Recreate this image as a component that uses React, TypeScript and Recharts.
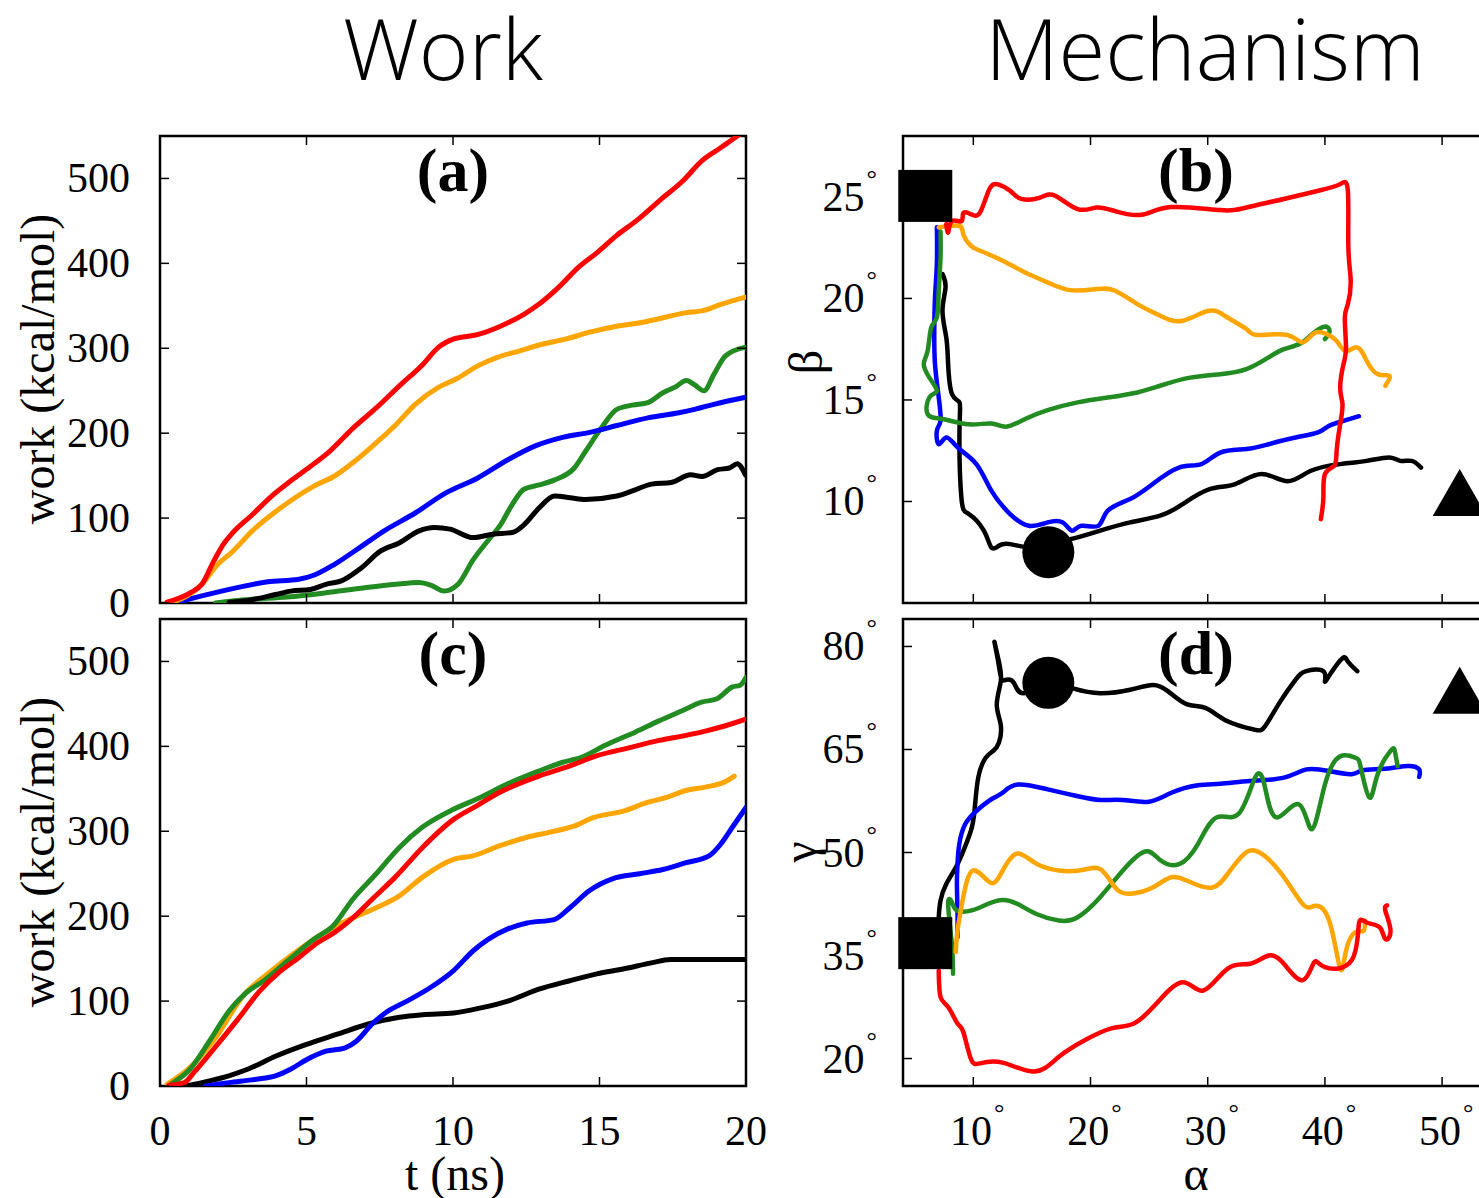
import { LineChart, ComposedChart, Line, Scatter, XAxis, YAxis, ReferenceArea } from "recharts";

const SERIF = '"Liberation Serif", "Times New Roman", serif';
const SANS = '"Open Sans", "Noto Sans", sans-serif';

const RED = "#ff0000";
const ORANGE = "#ffa500";
const BLUE = "#0000ff";
const BLACK = "#000000";
const GREEN = "#228b22";

// tick labels
const timeTicks = [0, 5, 10, 15, 20];
const workTicks = [0, 100, 200, 300, 400, 500];
const alphaTicks = [10, 20, 30, 40, 50];
const betaTicks = [10, 15, 20, 25];
const gammaTicks = [20, 35, 50, 65, 80];

// (a) work vs t (ns)
const redA = [[0.24, 1], [1.03, 12], [1.43, 22], [1.83, 49], [2.16, 69], [2.49, 83], [3.15, 104], [3.81, 126], [4.47, 144], [5.14, 161], [5.8, 179], [6.59, 206], [7.39, 230], [8.18, 256], [8.97, 281], [9.5, 301], [10.03, 311], [10.83, 316], [11.62, 326], [12.42, 340], [12.94, 352], [13.61, 372], [14.27, 395], [14.93, 413], [15.59, 433], [16.25, 450], [17.05, 474], [17.84, 497], [18.5, 521], [19.17, 537], [19.7, 550], [20, 558]];
const orangeA = [[0.37, 0], [1.43, 22], [1.96, 45], [2.49, 61], [3.15, 85], [3.81, 104], [4.61, 124], [5.27, 138], [5.93, 149], [6.72, 169], [7.39, 189], [8.05, 210], [8.71, 234], [9.5, 254], [10.17, 265], [10.83, 279], [11.49, 289], [12.28, 297], [13.08, 305], [13.87, 311], [14.67, 319], [15.59, 326], [16.39, 330], [17.18, 336], [17.97, 342], [18.5, 344], [19.17, 352], [19.95, 360]];
const blueA = [[0.5, 0], [1.16, 6], [2.36, 16], [3.68, 25], [4.74, 28], [5.27, 33], [5.93, 45], [6.72, 63], [7.65, 85], [8.71, 106], [9.77, 130], [10.83, 147], [11.89, 169], [12.81, 185], [13.74, 195], [14.67, 201], [15.59, 209], [16.65, 218], [17.71, 224], [18.24, 228], [18.9, 234], [19.95, 242]];
const blackA = [[2.36, 1], [3.15, 4], [3.94, 10], [4.47, 14], [5.14, 16], [5.66, 22], [6.19, 26], [6.86, 41], [7.52, 61], [8.18, 71], [8.84, 85], [9.37, 89], [9.9, 87], [10.69, 77], [11.36, 81], [12.02, 83], [12.42, 92], [12.94, 112], [13.47, 126], [14.0, 124], [14.53, 122], [15.59, 126], [16.12, 132], [16.78, 140], [17.45, 142], [18.11, 151], [18.5, 149], [19.03, 157], [19.43, 159], [19.7, 164], [19.98, 151]];
const greenA = [[1.89, 0], [3.02, 4], [4.34, 7], [5.66, 12], [6.99, 18], [8.05, 22], [8.84, 24], [9.24, 21], [9.7, 14], [10.17, 22], [10.69, 51], [11.23, 75], [11.62, 92], [12.02, 116], [12.42, 134], [12.94, 139], [13.47, 145], [14.14, 159], [14.53, 179], [15.06, 206], [15.59, 228], [16.12, 233], [16.65, 236], [17.18, 248], [17.57, 254], [17.97, 262], [18.24, 257], [18.57, 250], [18.9, 269], [19.3, 291], [19.95, 301]];

// (c) work vs t (ns)
const greenC = [[0.37, 2], [1.03, 20], [1.69, 53], [2.35, 88], [2.88, 108], [3.54, 124], [4.34, 147], [5.26, 173], [5.92, 189], [6.58, 220], [7.38, 250], [8.17, 281], [8.96, 305], [10.02, 326], [10.95, 340], [11.87, 356], [12.93, 371], [13.72, 381], [14.38, 387], [15.18, 401], [16.23, 417], [17.03, 430], [17.82, 442], [18.48, 452], [19.01, 456], [19.54, 470], [19.8, 472], [20, 481]];
const redC = [[0.3, 1], [0.83, 4], [1.16, 16], [1.82, 43], [2.62, 77], [3.41, 112], [4.07, 134], [4.73, 151], [5.39, 169], [5.92, 180], [6.58, 198], [7.24, 220], [8.03, 246], [8.96, 281], [10.02, 314], [10.81, 330], [11.6, 346], [12.93, 365], [13.99, 377], [14.92, 389], [15.97, 398], [17.03, 407], [17.95, 413], [18.61, 418], [19.27, 424], [20, 432]];
const orangeC = [[0.24, 2], [1.03, 22], [1.82, 53], [2.88, 108], [3.67, 132], [4.6, 157], [5.52, 179], [6.58, 198], [7.38, 210], [8.17, 224], [8.96, 246], [10.02, 267], [10.68, 271], [11.6, 283], [12.53, 293], [13.32, 299], [14.12, 306], [14.78, 316], [15.84, 324], [16.63, 334], [17.29, 340], [17.95, 348], [18.61, 352], [19.27, 358], [19.6, 365]];
const blueC = [[1.56, 0], [2.35, 4], [3.28, 8], [3.94, 12], [4.47, 20], [5.0, 31], [5.66, 41], [6.32, 45], [6.71, 53], [7.24, 73], [7.77, 88], [8.43, 100], [9.23, 116], [10.02, 136], [10.68, 159], [11.21, 173], [11.87, 185], [12.53, 192], [13.45, 196], [13.99, 210], [14.65, 230], [15.44, 244], [16.37, 250], [17.16, 255], [17.95, 263], [18.74, 271], [19.14, 285], [19.54, 305], [20, 328]];
const blackC = [[0.9, 0], [1.69, 6], [2.35, 12], [3.01, 20], [3.94, 35], [5.0, 49], [6.05, 61], [7.11, 73], [8.17, 81], [8.96, 84], [10.02, 86], [10.95, 92], [11.87, 100], [12.93, 114], [13.99, 124], [14.91, 132], [15.84, 138], [16.77, 145], [17.42, 149], [18.48, 149], [20, 149]];

// (b) beta vs alpha (deg)
const redB = [[7.69, 23.66], [7.85, 23.25], [8.17, 23.8], [8.98, 23.8], [9.14, 24.2], [9.78, 24.15], [10.58, 24.24], [11.38, 25.39], [12.18, 25.6], [13.14, 25.3], [14.1, 24.9], [15.7, 24.97], [16.98, 25.06], [18.9, 24.4], [20.5, 24.48], [22.1, 24.3], [24.35, 24.12], [26.9, 24.5], [31.07, 24.35], [33.3, 24.48], [36.5, 24.9], [39.7, 25.34], [41.3, 25.63], [41.96, 25.3], [42.0, 22.5], [42.2, 20.87], [41.96, 19.72], [41.7, 19.06], [41.8, 17.6], [41.6, 16.8], [41.3, 15.6], [41.5, 14.8], [41.3, 13.8], [41.0, 12.5], [40.8, 11.76], [40.0, 11.35], [39.87, 10.2], [39.65, 9.13]];
const orangeB = [[7.05, 23.5], [8.8, 23.58], [9.14, 23.17], [9.78, 22.6], [10.58, 22.35], [12.5, 21.86], [14.42, 21.28], [16.34, 20.79], [18.26, 20.41], [20.5, 20.46], [22.1, 20.38], [24.0, 19.72], [25.94, 19.15], [27.86, 18.9], [30.1, 19.39], [31.7, 19.06], [33.3, 18.49], [34.27, 18.2], [36.8, 18.2], [38.1, 17.83], [39.07, 18.28], [40.0, 18.28], [41.0, 17.9], [41.8, 17.4], [42.76, 17.59], [43.56, 16.93], [44.5, 16.27], [45.5, 16.19], [45.16, 15.7]];
const greenB = [[7.2, 23.3], [7.2, 22.0], [7.05, 20.38], [6.89, 19.06], [6.41, 18.57], [6.1, 17.42], [5.77, 16.77], [6.25, 16.1], [6.89, 15.45], [6.25, 15.12], [6.1, 14.3], [7.37, 14.06], [9.6, 13.8], [11.54, 13.84], [12.8, 13.68], [14.42, 14.06], [16.34, 14.5], [18.9, 14.88], [21.46, 15.12], [24.0, 15.37], [25.94, 15.7], [28.5, 16.1], [31.07, 16.27], [33.3, 16.52], [35.2, 17.1], [36.5, 17.5], [37.8, 17.75], [38.75, 18.16], [39.87, 18.6], [40.4, 18.4], [40.0, 18.0]];
const blueB = [[6.89, 23.5], [6.89, 21.7], [6.73, 20.05], [6.67, 18.4], [6.73, 16.77], [7.05, 15.12], [7.2, 13.97], [6.89, 13.48], [7.05, 12.82], [7.69, 13.15], [8.66, 12.66], [10.26, 11.84], [11.54, 10.53], [13.14, 9.38], [14.74, 8.8], [16.34, 8.97], [17.62, 8.97], [18.42, 8.56], [19.22, 8.8], [20.66, 8.8], [21.46, 9.54], [23.38, 10.12], [25.3, 10.86], [27.55, 11.67], [29.47, 11.84], [31.07, 12.41], [33.3, 12.58], [35.2, 12.82], [37.5, 13.15], [39.4, 13.4], [40.36, 13.73], [41.6, 13.97], [42.9, 14.2]];
const blackB = [[7.37, 21.2], [7.63, 20.54], [7.37, 19.4], [7.69, 18.08], [7.85, 16.77], [8.18, 15.29], [8.82, 14.88], [8.82, 13.48], [8.98, 10.2], [9.62, 9.38], [10.9, 8.56], [11.54, 7.73], [12.18, 7.82], [13.14, 7.9], [15.06, 7.73], [16.5, 7.98], [18.26, 8.14], [20.82, 8.56], [23.38, 8.97], [25.94, 9.3], [27.86, 9.87], [30.1, 10.6], [32.35, 10.86], [34.6, 11.35], [36.8, 11.0], [38.75, 11.5], [41.3, 11.84], [43.56, 12.0], [45.5, 12.17], [46.44, 12.0], [47.4, 12.0], [48.2, 11.67]];

// (d) gamma vs alpha (deg)
const blackD = [[7.05, 40.57], [7.2, 43.0], [7.69, 45.4], [8.5, 47.8], [9.14, 50.2], [9.78, 53.1], [10.1, 56.05], [10.42, 60.9], [11.06, 63.8], [11.7, 64.8], [12.18, 65.97], [12.34, 68.6], [12.0, 71.5], [12.34, 74.9], [12.18, 77.8], [11.8, 80.7], [12.1, 78.0], [12.4, 75.3], [12.82, 75.16], [13.46, 74.7], [14.26, 73.2], [16.44, 74.4], [18.58, 73.86], [20.82, 73.2], [23.38, 73.7], [25.3, 74.4], [26.6, 73.5], [28.2, 71.6], [29.8, 71.05], [31.7, 69.1], [33.95, 67.9], [34.9, 68.4], [36.2, 72.0], [37.5, 75.16], [38.4, 76.4], [39.87, 76.4], [40.0, 74.9], [40.5, 76.1], [41.5, 78.3], [41.96, 77.8], [42.76, 76.4]];
const blueD = [[8.65, 37.67], [8.65, 41.5], [8.6, 45.4], [8.65, 48.3], [8.8, 51.2], [9.3, 54.1], [10.26, 56.05], [11.54, 57.75], [12.5, 58.7], [13.78, 59.9], [16.34, 59.2], [18.9, 58.2], [20.82, 57.65], [22.74, 57.65], [24.98, 57.4], [26.9, 58.7], [29.15, 59.8], [31.07, 60.0], [33.6, 60.4], [36.5, 60.9], [38.43, 62.1], [40.36, 61.86], [42.28, 61.4], [43.2, 61.95], [45.16, 62.2], [47.08, 62.6], [48.04, 62.1], [48.04, 61.0]];
const greenD = [[8.27, 32.35], [8.17, 36.7], [7.85, 42.5], [8.17, 42.75], [8.65, 41.5], [9.94, 41.6], [11.22, 42.5], [12.5, 43.1], [13.78, 42.5], [15.38, 41.05], [17.3, 40.1], [18.9, 40.57], [20.82, 43.5], [22.74, 47.35], [24.66, 50.15], [25.94, 48.9], [27.55, 48.3], [29.15, 51.2], [30.75, 55.1], [32.67, 55.7], [34.1, 61.1], [34.9, 59.4], [35.9, 55.1], [37.8, 57.0], [38.9, 53.4], [40.0, 59.9], [41.3, 64.0], [42.6, 63.8], [43.07, 62.3], [43.8, 58.0], [44.5, 61.4], [45.6, 64.8], [45.96, 64.8], [46.2, 62.6]];
const orangeD = [[8.5, 35.5], [8.65, 38.6], [9.14, 43.5], [9.94, 47.35], [11.22, 45.9], [12.18, 46.4], [13.62, 49.8], [15.7, 48.1], [18.9, 47.35], [20.82, 47.6], [22.1, 44.9], [23.38, 44.0], [25.3, 44.9], [26.9, 46.4], [28.5, 45.7], [30.4, 44.9], [31.7, 46.9], [32.83, 49.3], [34.1, 50.25], [36.2, 47.1], [38.1, 42.5], [39.07, 42.2], [40.36, 40.1], [41.3, 33.1], [41.8, 35.7], [42.6, 38.4], [43.3, 38.6], [43.4, 40.1]];
const redD = [[7.05, 32.8], [7.2, 28.96], [7.85, 27.5], [8.65, 25.1], [9.14, 23.9], [9.78, 20.0], [10.58, 19.3], [12.5, 19.4], [15.22, 18.1], [17.3, 20.25], [19.54, 22.7], [21.78, 24.4], [23.7, 25.1], [25.62, 28.0], [27.86, 31.1], [29.63, 29.9], [31.7, 33.1], [33.63, 33.8], [35.2, 35.0], [36.5, 33.8], [38.1, 31.4], [39.07, 34.0], [40.0, 33.3], [42.28, 34.3], [42.9, 39.6], [43.56, 39.8], [44.68, 39.1], [45.16, 37.4], [45.6, 38.6], [45.16, 41.5], [45.3, 42.3]];

// markers: start (square), intermediate (circle), end (triangle)
const squareB = [[5.9, 25.05]];
const circleB = [[16.4, 7.5]];
const triangleB = [[51.5, 10.27]];
const squareD = [[5.9, 36.8]];
const circleD = [[16.4, 74.7]];
const triangleD = [[51.5, 73.1]];

const pts = (arr: number[][]) => arr.map(([x, y]) => ({ x, y }));

const PLOT_W = 586;
const PLOT_H = 467;
const TICK = 9;
const tl = { stroke: "#000", strokeWidth: 1.5 };

const Deg = () => <tspan fontSize={26} dx={2} dy={-24}>°</tspan>;

// bottom axis: inward tick marks at bottom and top of the frame, optional label
const bottomTick = (label: boolean, deg: boolean) => ({ x, y, payload }: any) => (
  <g>
    <line x1={x} y1={y} x2={x} y2={y - TICK} {...tl} />
    <line x1={x} y1={y - PLOT_H} x2={x} y2={y - PLOT_H + TICK} {...tl} />
    {label && (
      <text x={deg ? x + 4 : x} y={y + 59} textAnchor="middle" fontFamily={SERIF} fontSize={42} fill="#000">
        {payload.value}
        {deg && <Deg />}
      </text>
    )}
  </g>
);

// left axis: inward tick marks at left and right of the frame, label
const leftTick = (deg: boolean) => ({ x, y, payload }: any) => (
  <g>
    <line x1={x} y1={y} x2={x + TICK} y2={y} {...tl} />
    <line x1={x + PLOT_W} y1={y} x2={x + PLOT_W - TICK} y2={y} {...tl} />
    <text x={x - (deg ? 26 : 30)} y={y + 14} textAnchor="end" fontFamily={SERIF} fontSize={42} fill="#000">
      {payload.value}
      {deg && <Deg />}
    </text>
  </g>
);

const Square = ({ cx, cy }: any) => <rect x={cx - 27} y={cy - 26} width={54} height={52} fill="#000" />;
const Dot = ({ cx, cy }: any) => <circle cx={cx} cy={cy} r={26} fill="#000" />;
const Triangle = ({ cx, cy }: any) => (
  <polygon points={`${cx},${cy - 27} ${cx - 27},${cy + 20} ${cx + 27},${cy + 20}`} fill="#000" />
);

function WorkPanel({ series, showX }: { series: [number[][], string][]; showX: boolean }) {
  const xh = showX ? 100 : 20;
  return (
    <LineChart width={160 + PLOT_W + 40} height={36 + PLOT_H + xh} margin={{ top: 36, right: 40, bottom: 0, left: 0 }}>
      <XAxis dataKey="x" type="number" domain={[0, 20]} ticks={timeTicks} interval={0} height={xh}
        axisLine={false} tickLine={false} tickSize={0} tickMargin={0}
        tick={bottomTick(showX, false)} allowDataOverflow />
      <YAxis type="number" domain={[0, 550]} ticks={workTicks} interval={0} width={160}
        axisLine={false} tickLine={false} tickSize={0} tickMargin={0}
        tick={leftTick(false)} allowDataOverflow />
      <ReferenceArea x1={0} x2={20} y1={0} y2={550} fill="none" fillOpacity={0} stroke="#000" strokeWidth={2.5} />
      {series.map(([d, c], i) => (
        <Line key={i} data={pts(d)} dataKey="y" type="monotone" stroke={c} strokeWidth={5}
          dot={false} isAnimationActive={false} strokeLinecap="round" />
      ))}
    </LineChart>
  );
}

function MechPanel({ series, domain, ticks, markers, showX }: {
  series: [number[][], string][]; domain: [number, number]; ticks: number[];
  markers: [number[][], any][]; showX: boolean;
}) {
  const xh = showX ? 100 : 20;
  return (
    <ComposedChart width={143 + PLOT_W + 14} height={36 + PLOT_H + xh} margin={{ top: 36, right: 14, bottom: 0, left: 0 }}>
      <XAxis dataKey="x" type="number" domain={[4, 54]} ticks={alphaTicks} interval={0} height={xh}
        axisLine={false} tickLine={false} tickSize={0} tickMargin={0}
        tick={bottomTick(showX, true)} />
      <YAxis type="number" domain={domain} ticks={ticks} interval={0} width={143}
        axisLine={false} tickLine={false} tickSize={0} tickMargin={0} tick={leftTick(true)} />
      <ReferenceArea x1={4} x2={54} y1={domain[0]} y2={domain[1]} fill="none" fillOpacity={0} stroke="#000" strokeWidth={2.5} />
      {series.map(([d, c], i) => (
        <Line key={i} data={pts(d)} dataKey="y" type="natural" stroke={c} strokeWidth={4.5}
          dot={false} isAnimationActive={false} strokeLinejoin="round" strokeLinecap="round" />
      ))}
      {markers.map(([d, shape], i) => (
        <Scatter key={"m" + i} data={pts(d)} dataKey="y" shape={shape} isAnimationActive={false} />
      ))}
    </ComposedChart>
  );
}

export default function App() {
  const txt = { fontFamily: SERIF, fill: "#000" };
  return (
    <div style={{ position: "absolute", left: 0, top: 0, width: 1479, height: 1198, overflow: "hidden", background: "#fff" }}>
      <div style={{ position: "absolute", left: 0, top: 100 }}>
        <WorkPanel showX={false} series={[[greenA, GREEN], [blackA, BLACK], [blueA, BLUE], [orangeA, ORANGE], [redA, RED]]} />
      </div>
      <div style={{ position: "absolute", left: 0, top: 583 }}>
        <WorkPanel showX series={[[blackC, BLACK], [blueC, BLUE], [orangeC, ORANGE], [greenC, GREEN], [redC, RED]]} />
      </div>
      <div style={{ position: "absolute", left: 760, top: 100 }}>
        <MechPanel showX={false} domain={[5, 28]} ticks={betaTicks}
          series={[[blackB, BLACK], [blueB, BLUE], [greenB, GREEN], [orangeB, ORANGE], [redB, RED]]}
          markers={[[squareB, Square], [circleB, Dot], [triangleB, Triangle]]} />
      </div>
      <div style={{ position: "absolute", left: 760, top: 583 }}>
        <MechPanel showX domain={[16, 84]} ticks={gammaTicks}
          series={[[blackD, BLACK], [blueD, BLUE], [greenD, GREEN], [orangeD, ORANGE], [redD, RED]]}
          markers={[[squareD, Square], [circleD, Dot], [triangleD, Triangle]]} />
      </div>
      <svg width={1479} height={1198} style={{ position: "absolute", left: 0, top: 0, pointerEvents: "none" }}>
        <text x={443} y={80} textAnchor="middle" fontFamily={SANS} fontWeight={300} fontSize={85} fill="#000">Work</text>
        <text x={1205} y={80} textAnchor="middle" fontFamily={SANS} fontWeight={300} fontSize={85} fill="#000">Mechanism</text>
        <text x={453} y={191} textAnchor="middle" fontSize={62} fontWeight="bold" {...txt}>(a)</text>
        <text x={1196} y={191} textAnchor="middle" fontSize={62} fontWeight="bold" {...txt}>(b)</text>
        <text x={453} y={674} textAnchor="middle" fontSize={62} fontWeight="bold" {...txt}>(c)</text>
        <text x={1196} y={674} textAnchor="middle" fontSize={62} fontWeight="bold" {...txt}>(d)</text>
        <text x={0} y={0} transform="translate(54,369) rotate(-90)" textAnchor="middle" fontSize={48} {...txt}>work (kcal/mol)</text>
        <text x={0} y={0} transform="translate(54,852) rotate(-90)" textAnchor="middle" fontSize={48} {...txt}>work (kcal/mol)</text>
        <text x={455} y={1190} textAnchor="middle" fontSize={48} {...txt}>t (ns)</text>
        <text x={1196} y={1190} textAnchor="middle" fontSize={48} {...txt}>α</text>
        <text x={0} y={0} transform="translate(822,362) rotate(-90)" textAnchor="middle" fontSize={48} {...txt}>β</text>
        <text x={0} y={0} transform="translate(816,852) rotate(-90)" textAnchor="middle" fontSize={48} {...txt}>γ</text>
      </svg>
    </div>
  );
}
